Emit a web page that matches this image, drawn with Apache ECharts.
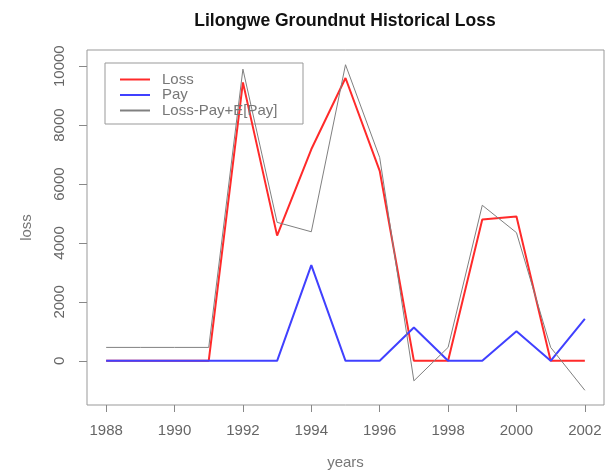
<!DOCTYPE html>
<html>
<head>
<meta charset="utf-8">
<script src="https://cdn.jsdelivr.net/npm/echarts@6/dist/echarts.min.js"></script>
<style>
html, body { margin: 0; padding: 0; background: #fff; }
#chart { width: 613px; height: 472px; }
</style>
</head>
<body>
<div id="chart"></div>
<script>
// values
var years = [1988, 1989, 1990, 1991, 1992, 1993, 1994, 1995, 1996, 1997, 1998, 1999, 2000, 2001, 2002];
var loss = [0, 0, 0, 0, 9450, 4250, 7180, 9600, 6450, 0, 0, 4800, 4900, 0, 0];
var pay = [0, 0, 0, 0, 0, 0, 3250, 0, 0, 1130, 0, 0, 1000, 0, 1420];
var adjusted = [455, 455, 455, 455, 9900, 4700, 4380, 10050, 6900, -680, 455, 5280, 4350, 455, -1000];
var xTicks = [1988, 1990, 1992, 1994, 1996, 1998, 2000, 2002];
var yTicks = [0, 2000, 4000, 6000, 8000, 10000];

var fontName = 'Liberation Sans';
var myChart = echarts.init(document.getElementById('chart'));

function pairs(vals) {
    return years.map(function (y, i) { return [y, vals[i]]; });
}

var option = {
    animation: false,
    backgroundColor: '#fff',
    title: {
        text: 'Lilongwe Groundnut Historical Loss',
        left: 340,
        top: 7,
        textAlign: 'center',
        textStyle: { fontFamily: fontName, fontSize: 17.5, fontWeight: 'bold', color: '#111' }
    },
    legend: {
        orient: 'vertical',
        left: 114,
        top: 67,
        itemWidth: 30,
        itemHeight: 10,
        itemGap: 0.5,
        itemStyle: { opacity: 0 },
        data: ['Loss', 'Pay', 'Loss-Pay+E[Pay]'],
        textStyle: { fontFamily: fontName, fontSize: 15, lineHeight: 15, color: '#777', padding: [0, 0, 0, 7] }
    },
    graphic: [{
        type: 'rect',
        shape: { x: 105, y: 63, width: 198, height: 61 },
        style: { fill: null, stroke: '#999', lineWidth: 1 }
    }],
    grid: {
        left: 87, right: 9, top: 50, bottom: 67,
        outerBoundsMode: 'none',
        show: true, borderColor: '#999', borderWidth: 1
    },
    xAxis: {
        type: 'value',
        min: 1987.44,
        max: 2002.56,
        name: 'years',
        nameLocation: 'middle',
        nameGap: 50,
        nameTextStyle: { fontFamily: fontName, fontSize: 15, color: '#777' },
        axisLine: { show: false, onZero: false },
        splitLine: { show: false },
        axisTick: { show: true, length: 7, customValues: xTicks, lineStyle: { color: '#888' } },
        axisLabel: {
            customValues: xTicks, margin: 18,
            formatter: function (v) { return String(v); },
            fontFamily: fontName, fontSize: 15, color: '#666'
        }
    },
    yAxis: {
        type: 'value',
        min: -1500,
        max: 10550,
        name: 'loss',
        nameLocation: 'middle',
        nameGap: 53,
        nameTextStyle: { fontFamily: fontName, fontSize: 15, color: '#777' },
        axisLine: { show: false, onZero: false },
        splitLine: { show: false },
        axisTick: { show: true, length: 8, customValues: yTicks, lineStyle: { color: '#888' } },
        axisLabel: {
            customValues: yTicks, rotate: 90, margin: 20,
            formatter: function (v) { return String(v); },
            fontFamily: fontName, fontSize: 15, color: '#666'
        }
    },
    series: [
        {
            name: 'Loss', type: 'line', data: pairs(loss),
            symbol: 'none', color: '#ff2a2a',
            lineStyle: { width: 2, color: '#ff2a2a' }
        },
        {
            name: 'Pay', type: 'line', data: pairs(pay),
            symbol: 'none', color: '#4040ff',
            lineStyle: { width: 2, color: '#4040ff' }
        },
        {
            name: 'Loss-Pay+E[Pay]', type: 'line', data: pairs(adjusted),
            symbol: 'none', color: '#808080',
            lineStyle: { width: 1, color: '#808080' }
        }
    ]
};
myChart.setOption(option);
</script>
</body>
</html>
